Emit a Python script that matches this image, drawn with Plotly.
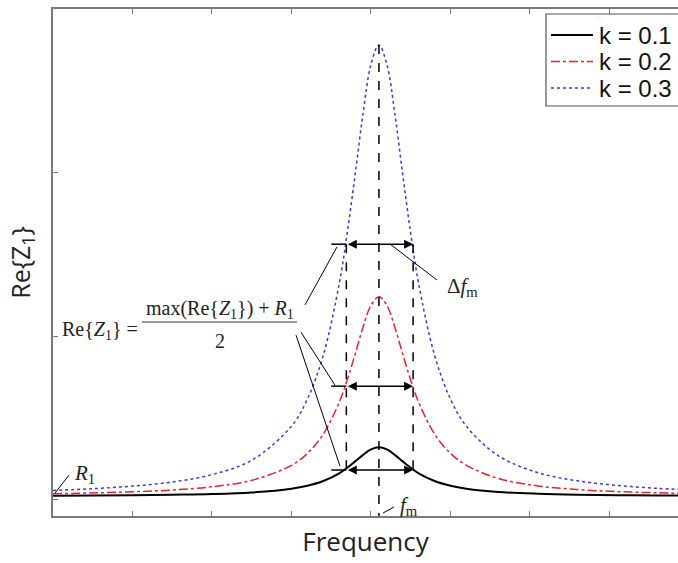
import plotly.graph_objects as go

# ---- data ----
freq = [0, 0.5, 1, 1.5, 2, 2.5, 3, 3.2, 3.4, 3.6, 3.7, 3.8, 3.9, 4.0, 4.1,
        4.2, 4.3, 4.4, 4.5, 4.6, 4.8, 5.0, 5.2, 5.6, 6.1, 6.6, 7.1, 7.6, 7.9]
re_k01 = [0.024, 0.025, 0.027, 0.030, 0.034, 0.044, 0.067, 0.085, 0.114, 0.161, 0.195, 0.234, 0.274, 0.307, 0.320,
          0.307, 0.274, 0.234, 0.195, 0.161, 0.114, 0.085, 0.067, 0.047, 0.036, 0.030, 0.027, 0.025, 0.025]
re_k02 = [0.036, 0.041, 0.048, 0.059, 0.079, 0.118, 0.210, 0.283, 0.401, 0.595, 0.730, 0.889, 1.054, 1.188, 1.240,
          1.188, 1.054, 0.889, 0.730, 0.595, 0.401, 0.283, 0.210, 0.130, 0.084, 0.062, 0.049, 0.042, 0.039]
re_k03 = [0.056, 0.067, 0.083, 0.108, 0.153, 0.241, 0.449, 0.615, 0.883, 1.320, 1.626, 1.986, 2.360, 2.661, 2.780,
          2.661, 2.360, 1.986, 1.626, 1.320, 0.883, 0.615, 0.449, 0.269, 0.165, 0.115, 0.087, 0.069, 0.062]
series_names = ["k = 0.1", "k = 0.2", "k = 0.3"]

f_m = 4.10
f_lo, f_hi = 3.69, 4.53
half_levels = [1.562, 0.694, 0.181]
peak_max = 2.78

colors = ["black", "#e8232a", "#3a3ad8"]
dashes = ["solid", "dashdot", "dot"]
widths = [2, 1.5, 1.5]

fig = go.Figure()
for name, ys, c, d, w in zip(series_names, [re_k01, re_k02, re_k03], colors, dashes, widths):
    fig.add_trace(go.Scatter(x=freq, y=ys, name=name, mode="lines", showlegend=False,
                             line=dict(color=c, width=w, dash=d, shape="spline")))

shapes = []
dash_style = dict(color="black", width=1.5, dash="dash")
# vertical dashed lines
shapes.append(dict(type="line", xref="x", yref="y", x0=f_m, x1=f_m, y0=peak_max, y1=-0.1, line=dash_style))
for xv in (f_lo, f_hi):
    shapes.append(dict(type="line", xref="x", yref="y", x0=xv, x1=xv,
                       y0=half_levels[0], y1=half_levels[2], line=dash_style))
thin = dict(color="black", width=1)
# arrow overhang lines
for lv in half_levels:
    shapes.append(dict(type="line", xref="x", yref="y", x0=3.50, x1=f_lo, y0=lv, y1=lv,
                       line=dict(color="black", width=1.5)))
# leader lines
leaders = [
    (3.170, 1.191, 3.572, 1.545),
    (3.119, 1.024, 3.547, 0.700),
    (3.057, 1.006, 3.610, 0.205),
    (4.239, 1.563, 4.830, 1.343),
    (4.151, -0.082, 4.289, -0.045),
    (0.025, 0.040, 0.201, 0.150),
]
for x0, y0, x1, y1 in leaders:
    shapes.append(dict(type="line", xref="x", yref="y", x0=x0, y0=y0, x1=x1, y1=y1, line=thin))
# fraction bar
shapes.append(dict(type="line", xref="x", yref="y", x0=1.12, x1=3.07, y0=1.086, y1=1.086,
                   line=dict(color="#333", width=1)))

annotations = []
for lv in half_levels:
    annotations.append(dict(x=f_hi, y=lv, ax=f_lo, ay=lv, xref="x", yref="y", axref="x", ayref="y",
                            text="", showarrow=True, arrowside="end+start", arrowhead=2,
                            arrowsize=1.2, arrowwidth=1.5, arrowcolor="black"))
serif = "Liberation Serif"
annotations += [
    dict(x=0.59, y=1.037, xref="x", yref="y", showarrow=False,
         text="Re{<i>Z</i><sub>1</sub>} =", font=dict(family=serif, size=20, color="#222")),
    dict(x=2.10, y=1.165, xref="x", yref="y", showarrow=False,
         text="max(Re{<i>Z</i><sub>1</sub>}) + <i>R</i><sub>1</sub>", font=dict(family=serif, size=20, color="#222")),
    dict(x=2.10, y=0.97, xref="x", yref="y", showarrow=False,
         text="2", font=dict(family=serif, size=20, color="#222")),
    dict(x=5.145, y=1.30, xref="x", yref="y", showarrow=False,
         text="Δ<i>f</i><sub>m</sub>", font=dict(family=serif, size=21, color="#222")),
    dict(x=4.478, y=-0.04, xref="x", yref="y", showarrow=False,
         text="<i>f</i><sub>m</sub>", font=dict(family=serif, size=21, color="#222")),
    dict(x=0.39, y=0.156, xref="x", yref="y", showarrow=False,
         text="<i>R</i><sub>1</sub>", font=dict(family=serif, size=21, color="#222")),
]

# ---- legend drawn by hand (box runs off the right edge as in the reference) ----
def px_x(p):
    return (p - 53) / 625.0

def px_y(p):
    return (516 - p) / 507.0

shapes.append(dict(type="rect", xref="paper", yref="paper", x0=px_x(546), x1=px_x(700),
                   y0=px_y(106), y1=px_y(14), line=dict(color="#555", width=1.2), fillcolor="white",
                   layer="above"))
for i, (name, c, d, w) in enumerate(zip(series_names, colors, dashes, widths)):
    yc = 35 + 26.5 * i
    shapes.append(dict(type="line", xref="paper", yref="paper", x0=px_x(551), x1=px_x(593),
                       y0=px_y(yc), y1=px_y(yc), line=dict(color=c, width=w, dash=d), layer="above"))
    annotations.append(dict(x=px_x(597), y=px_y(yc), xref="paper", yref="paper", xanchor="left",
                            yanchor="middle", showarrow=False, text=name,
                            font=dict(family="Liberation Sans", size=24, color="#111")))

axis_color = "#7a7a7a"
fig.update_layout(
    width=678, height=563,
    margin=dict(l=53, r=0, t=9, b=47),
    paper_bgcolor="white", plot_bgcolor="white",
    showlegend=False,
    shapes=shapes,
    annotations=annotations,
    xaxis=dict(range=[0, 7.862], showgrid=False, zeroline=False, showline=True,
               linecolor=axis_color, linewidth=1.5, mirror="ticks",
               ticks="inside", ticklen=5, tickcolor=axis_color,
               tickvals=[1, 2, 3, 4, 5, 6, 7], showticklabels=False,
               title=dict(text="Frequency", standoff=16,
                          font=dict(family="Open Sans", size=26, color="#222"))),
    yaxis=dict(range=[-0.1, 3.0], showgrid=False, zeroline=False, showline=True,
               linecolor=axis_color, linewidth=1.5, mirror=False,
               ticks="inside", ticklen=5, tickcolor=axis_color,
               tickvals=[0, 1, 2], showticklabels=False,
               title=dict(text="Re{Z<sub>1</sub>}", standoff=14,
                          font=dict(family="Open Sans", size=25, color="#222"))),
)

fig.write_html("out.html")
